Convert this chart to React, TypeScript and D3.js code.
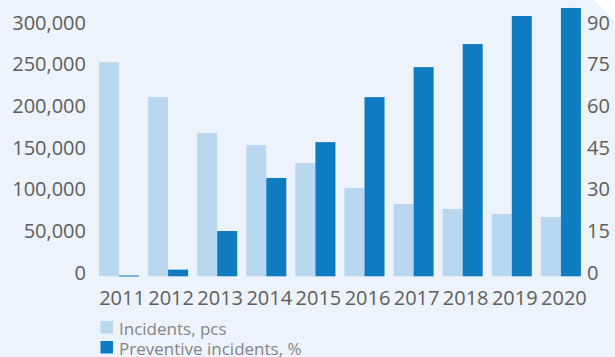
import React from "react";
import * as d3 from "d3";

const years = ["2011","2012","2013","2014","2015","2016","2017","2018","2019","2020"];
const incidents = [257000, 215200, 172000, 157600, 136000, 106000, 86800, 80800, 74800, 71200];
const preventive = [0.3, 2.4, 16.3, 35.4, 48.3, 64.5, 75.3, 83.6, 93.7, 96.6];
const leftTicks = [0, 50000, 100000, 150000, 200000, 250000, 300000];
const rightTicks = [0, 15, 30, 45, 60, 75, 90];
const legendLabels = ["Incidents, pcs", "Preventive incidents, %"];

const W = 615, H = 357;
const LIGHT = "#bad7f0";
const DARK = "#0f7bc0";
const BG = "#ecf3fa";
const AXIS_TEXT = "#5e5e5e";
const LEGEND_TEXT = "#858585";
const FONT = "'Open Sans', sans-serif";

export default function App() {
  const baseY = 276.3;
  const topY = 26.3;
  const x = d3.scaleBand<string>().domain(years).range([94.45, 585.45]).paddingInner(0.185).paddingOuter(0.0925);
  const yL = d3.scaleLinear().domain([0, 300000]).range([baseY, topY]);
  const yR = d3.scaleLinear().domain([0, 90]).range([baseY, topY]);
  const bw = x.bandwidth() / 2;
  const fmt = d3.format(",");
  return (
    <svg width={W} height={H} style={{ position: "absolute", left: 0, top: 0, display: "block" }}>
      <rect x={0} y={0} width={W} height={H} fill={BG} />
      <polygon points={`594,0 ${W},0 ${W},21`} fill="#ffffff" />
      {years.map((yr, i) => (
        <g key={yr}>
          <rect x={x(yr)!} y={yL(incidents[i])} width={bw} height={baseY - yL(incidents[i])} fill={LIGHT} />
          <rect x={x(yr)! + bw} y={yR(preventive[i])} width={bw} height={Math.max(1, baseY - yR(preventive[i]))} fill={DARK} />
          <text x={x(yr)! + x.bandwidth() / 2 + 3} y={297.5} textAnchor="middle" dominantBaseline="central" fontFamily={FONT} fontSize={20} fill={AXIS_TEXT}>{yr}</text>
        </g>
      ))}
      {leftTicks.map((t) => (
        <text key={"l" + t} x={86} y={yL(t) - 4} textAnchor="end" dominantBaseline="central" fontFamily={FONT} fontSize={20} fill={AXIS_TEXT}>{fmt(t)}</text>
      ))}
      {rightTicks.map((t) => (
        <text key={"r" + t} x={587} y={yR(t) - 4} textAnchor="start" dominantBaseline="central" fontFamily={FONT} fontSize={20} fill={AXIS_TEXT}>{t}</text>
      ))}
      {legendLabels.map((lab, i) => (
        <g key={lab}>
          <rect x={100.5} y={321 + i * 20} width={12.5} height={12.5} fill={i === 0 ? LIGHT : DARK} />
          <text x={119} y={328 + i * 20} dominantBaseline="central" fontFamily={FONT} fontSize={17} fill={LEGEND_TEXT}>{lab}</text>
        </g>
      ))}
    </svg>
  );
}
